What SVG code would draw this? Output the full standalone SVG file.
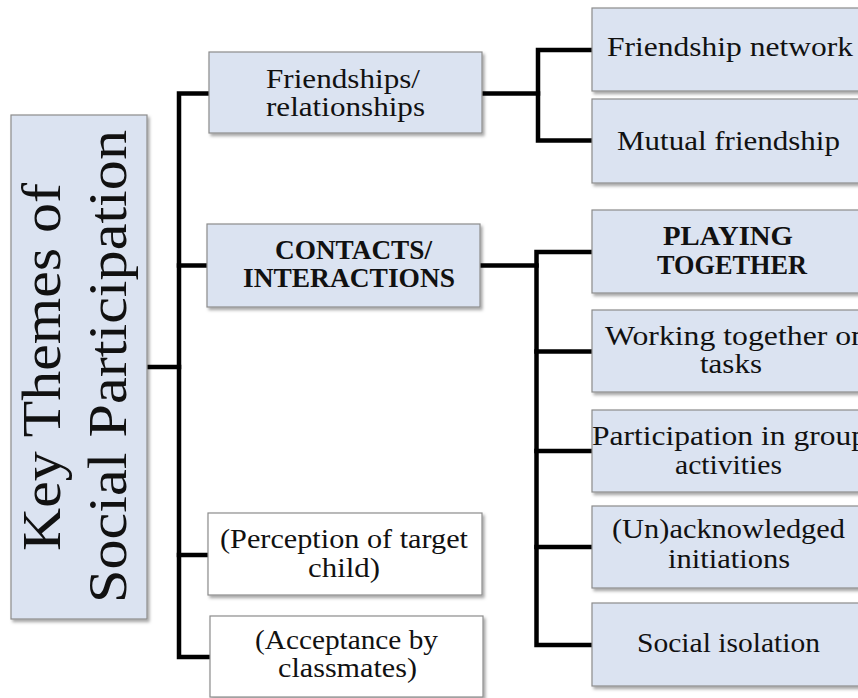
<svg xmlns="http://www.w3.org/2000/svg" width="858" height="698" viewBox="0 0 858 698">
  <defs>
    <filter id="shadow" x="-10%" y="-10%" width="130%" height="130%">
      <feDropShadow dx="2" dy="2.5" stdDeviation="1.6" flood-color="#000" flood-opacity="0.35"/>
    </filter>
  </defs>
  <style>
    .box { fill: #dbe3f1; stroke: #8c8c8c; stroke-width: 1.2; filter: url(#shadow); }
    .plain { fill: #ffffff; stroke: #8c8c8c; stroke-width: 1.2; filter: url(#shadow); }
    .lbl { font-family: "Liberation Serif", "Times New Roman", serif; font-size: 27px; fill: #111; }
    .bold { font-weight: bold; }
    .title { font-family: "Liberation Serif", "Times New Roman", serif; font-size: 54px; fill: #111; }
    .conn { fill: none; stroke: #000; stroke-width: 4.5; stroke-linejoin: miter; stroke-linecap: square; }
  </style>

  <!-- connectors -->
  <g id="connectors">
    <path class="conn" d="M147,367 H179"/>
    <path class="conn" d="M207,93.5 H179 V657 H208"/>
    <path class="conn" d="M179,265.5 H205"/>
    <path class="conn" d="M179,555 H206"/>
    <path class="conn" d="M482,93.5 H538"/>
    <path class="conn" d="M590,50 H538 V140.5 H590"/>
    <path class="conn" d="M480,265.5 H536.5"/>
    <path class="conn" d="M590,252 H536.5 V645 H590"/>
    <path class="conn" d="M536.5,351.5 H590"/>
    <path class="conn" d="M536.5,451 H590"/>
    <path class="conn" d="M536.5,547 H590"/>
  </g>

  <!-- root -->
  <g id="root">
    <rect class="box" x="11" y="115" width="136" height="504"/>
    <text class="title" transform="translate(60,367) rotate(-90)" x="-184" textLength="368" lengthAdjust="spacingAndGlyphs">Key Themes of</text>
    <text class="title" transform="translate(126,367) rotate(-90)" x="-236" textLength="473" lengthAdjust="spacingAndGlyphs">Social Participation</text>
  </g>

  <!-- second level -->
  <g id="friendships">
    <rect class="box" x="209" y="52" width="273" height="81"/>
    <text class="lbl" x="266" y="88" textLength="154" lengthAdjust="spacingAndGlyphs">Friendships/</text>
    <text class="lbl" x="266" y="116" textLength="159" lengthAdjust="spacingAndGlyphs">relationships</text>
  </g>
  <g id="contacts">
    <rect class="box" x="207" y="224" width="273" height="83"/>
    <text class="lbl bold" x="275" y="259" textLength="157" lengthAdjust="spacingAndGlyphs">CONTACTS/</text>
    <text class="lbl bold" x="243" y="287" textLength="212" lengthAdjust="spacingAndGlyphs">INTERACTIONS</text>
  </g>
  <g id="perception">
    <rect class="plain" x="208" y="513" width="274" height="82"/>
    <text class="lbl" x="220" y="548" textLength="248" lengthAdjust="spacingAndGlyphs">(Perception of target</text>
    <text class="lbl" x="308" y="577" textLength="72" lengthAdjust="spacingAndGlyphs">child)</text>
  </g>
  <g id="acceptance">
    <rect class="plain" x="210" y="616" width="273" height="81"/>
    <text class="lbl" x="255" y="649" textLength="183" lengthAdjust="spacingAndGlyphs">(Acceptance by</text>
    <text class="lbl" x="278" y="677" textLength="139" lengthAdjust="spacingAndGlyphs">classmates)</text>
  </g>

  <!-- third level: friendships -->
  <g id="friendship-network">
    <rect class="box" x="592" y="8" width="274" height="83"/>
    <text class="lbl" x="607" y="56" textLength="246" lengthAdjust="spacingAndGlyphs">Friendship network</text>
  </g>
  <g id="mutual-friendship">
    <rect class="box" x="592" y="99" width="274" height="84"/>
    <text class="lbl" x="617" y="150" textLength="223" lengthAdjust="spacingAndGlyphs">Mutual friendship</text>
  </g>

  <!-- third level: contacts -->
  <g id="playing-together">
    <rect class="box" x="592" y="210" width="274" height="83"/>
    <text class="lbl bold" x="663" y="245" textLength="130" lengthAdjust="spacingAndGlyphs">PLAYING</text>
    <text class="lbl bold" x="657" y="274" textLength="150" lengthAdjust="spacingAndGlyphs">TOGETHER</text>
  </g>
  <g id="working-together">
    <rect class="box" x="592" y="310" width="274" height="82"/>
    <text class="lbl" x="605" y="345" textLength="262" lengthAdjust="spacingAndGlyphs">Working together on</text>
    <text class="lbl" x="700" y="373" textLength="62" lengthAdjust="spacingAndGlyphs">tasks</text>
  </g>
  <g id="group-activities">
    <rect class="box" x="592" y="410" width="274" height="82"/>
    <text class="lbl" x="592" y="445" textLength="275" lengthAdjust="spacingAndGlyphs">Participation in group</text>
    <text class="lbl" x="675" y="474" textLength="107" lengthAdjust="spacingAndGlyphs">activities</text>
  </g>
  <g id="initiations">
    <rect class="box" x="592" y="506" width="274" height="82"/>
    <text class="lbl" x="612" y="538" textLength="233" lengthAdjust="spacingAndGlyphs">(Un)acknowledged</text>
    <text class="lbl" x="668" y="568" textLength="122" lengthAdjust="spacingAndGlyphs">initiations</text>
  </g>
  <g id="social-isolation">
    <rect class="box" x="592" y="603" width="274" height="83"/>
    <text class="lbl" x="637" y="652" textLength="183" lengthAdjust="spacingAndGlyphs">Social isolation</text>
  </g>
</svg>
